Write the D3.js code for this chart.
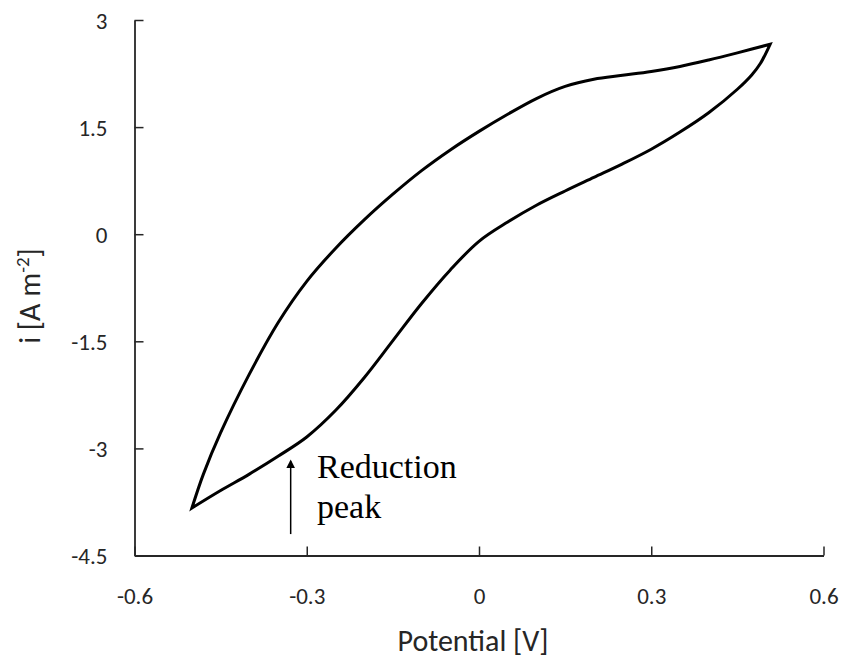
<!DOCTYPE html>
<html>
<head>
<meta charset="utf-8">
<script src="https://cdn.jsdelivr.net/npm/d3@7"></script>
<style>
  body { margin: 0; background: #fff; }
  svg text { font-family: Carlito, Calibri, Lato, sans-serif; fill: #262626; }
</style>
</head>
<body>
<div id="chartContainer"></div>
<script>
// forward (anodic) sweep, -0.5 V -> +0.5 V
var fwdPotential = [-0.500, -0.480, -0.450, -0.400, -0.350, -0.300, -0.250, -0.200, -0.150, -0.100, -0.050, 0.000, 0.050, 0.100, 0.150, 0.200, 0.250, 0.300, 0.350, 0.400, 0.450, 0.507];
var fwdCurrent   = [-3.835, -3.36, -2.78, -1.96, -1.24, -0.66, -0.20, 0.20, 0.56, 0.89, 1.18, 1.44, 1.68, 1.90, 2.07, 2.17, 2.225, 2.28, 2.35, 2.44, 2.54, 2.66];

// reverse (cathodic) sweep, +0.5 V -> -0.5 V
var revPotential = [0.507, 0.490, 0.475, 0.450, 0.400, 0.350, 0.300, 0.250, 0.200, 0.150, 0.100, 0.050, 0.000, -0.050, -0.100, -0.150, -0.200, -0.250, -0.300, -0.350, -0.400, -0.450, -0.500];
var revCurrent   = [2.66, 2.39, 2.23, 2.03, 1.70, 1.43, 1.19, 0.985, 0.795, 0.605, 0.405, 0.17, -0.10, -0.50, -0.97, -1.49, -2.01, -2.47, -2.84, -3.11, -3.36, -3.59, -3.835];

var xTicks = [-0.6, -0.3, 0, 0.3, 0.6];
var yTicks = [3, 1.5, 0, -1.5, -3, -4.5];

// annotation: arrow pointing at the reduction peak
var peakPotential = -0.328;
var arrowFrom = -4.2, arrowTo = -3.18;
var peakLabel = ["Reduction", "peak"];

var width = 848, height = 664;
var svg = d3.select("#chartContainer").append("svg")
    .attr("width", width)
    .attr("height", height);

var x = d3.scaleLinear().domain([-0.6, 0.6]).range([134.5, 823.5]);
var y = d3.scaleLinear().domain([-4.5, 3]).range([555.5, 20]);

// plain hyphen for negatives, like the original
var fmt = function(d) { return String(+d.toFixed(1)); };

// axes, ticks pointing inward
var xAxis = d3.axisBottom(x).tickValues(xTicks).tickSize(-9).tickSizeOuter(0).tickFormat(fmt);
var yAxis = d3.axisLeft(y).tickValues(yTicks).tickSize(-9).tickSizeOuter(0).tickFormat(fmt);

var gx = svg.append("g").attr("transform", "translate(0," + y(-4.5) + ")").call(xAxis);
var gy = svg.append("g").attr("transform", "translate(" + x(-0.6) + ",0)").call(yAxis);

[gx, gy].forEach(function(g) {
  g.select(".domain").attr("stroke", "#262626").attr("stroke-width", 1.8);
  g.selectAll(".tick line").attr("stroke", "#262626").attr("stroke-width", 1.5);
  g.selectAll("text").attr("font-size", 23).attr("fill", "#262626")
    .style("font-family", "Carlito, Calibri, Lato, sans-serif");
});
gx.selectAll("text").attr("dy", null).attr("y", 48);
gy.selectAll("text").attr("x", -27).attr("dy", "0.36em");

// axis titles
svg.append("text")
    .attr("x", 473).attr("y", 651)
    .attr("text-anchor", "middle")
    .attr("font-size", 30)
    .text("Potential [V]");

var yt = svg.append("text")
    .attr("transform", "translate(40,296) rotate(-90)")
    .attr("text-anchor", "middle")
    .attr("font-size", 30);
yt.append("tspan").text("i [A m");
yt.append("tspan").attr("font-size", 19).attr("dy", -11).text("-2");
yt.append("tspan").attr("dy", 11).text("]");

// cyclic voltammogram loop
var fwd = fwdPotential.map(function(v, k) { return [v, fwdCurrent[k]]; });
var rev = revPotential.map(function(v, k) { return [v, revCurrent[k]]; });

var line = d3.line()
    .x(function(d) { return x(d[0]); })
    .y(function(d) { return y(d[1]); })
    .curve(d3.curveCatmullRom.alpha(0.5));

svg.append("path")
    .attr("d", line(fwd) + line(rev).replace(/^M/, "L") + "Z")
    .attr("fill", "none")
    .attr("stroke", "#000")
    .attr("stroke-width", 3)
    .attr("stroke-linejoin", "miter")
    .attr("stroke-miterlimit", 20);

// annotation arrow + label
svg.append("defs").append("marker")
    .attr("id", "head")
    .attr("viewBox", "0 0 10 10")
    .attr("refX", 8).attr("refY", 5)
    .attr("markerWidth", 6).attr("markerHeight", 6)
    .attr("orient", "auto")
  .append("path")
    .attr("d", "M0,0 L10,5 L0,10 Z")
    .attr("fill", "#000");

svg.append("line")
    .attr("x1", x(peakPotential)).attr("x2", x(peakPotential))
    .attr("y1", y(arrowFrom)).attr("y2", y(arrowTo))
    .attr("stroke", "#000")
    .attr("stroke-width", 1.5)
    .attr("marker-end", "url(#head)");

svg.selectAll(".peak")
    .data(peakLabel)
    .enter()
    .append("text")
    .attr("class", "peak")
    .attr("x", 317)
    .attr("y", function(d, i) { return 478 + i * 40; })
    .attr("font-size", 34)
    .style("font-family", "'Liberation Serif', 'Times New Roman', serif")
    .style("fill", "#000")
    .text(function(d) { return d; });
</script>
</body>
</html>
